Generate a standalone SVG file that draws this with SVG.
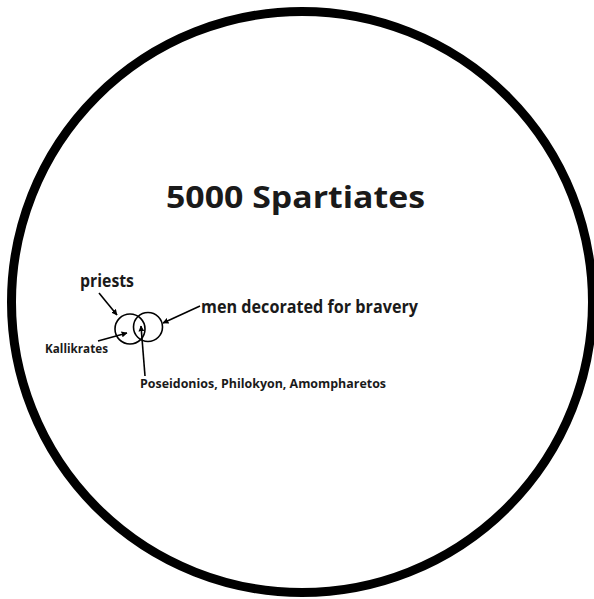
<svg xmlns="http://www.w3.org/2000/svg" width="594" height="599" viewBox="0 0 594 599">
<defs>
<style>
text{font-family:"Open Sans","Liberation Sans",sans-serif;font-weight:bold;fill:#1a1a1a}
.c{fill:none;stroke:#000}
.a{fill:none;stroke:#000;stroke-width:1.6;marker-end:url(#ah)}
</style>
<marker id="ah" viewBox="0 0 10 10" refX="9" refY="5" markerWidth="6" markerHeight="6" markerUnits="userSpaceOnUse" orient="auto">
<path d="M0,0 L10,5 L0,10 Z" fill="#000"/>
</marker>
</defs>
<rect width="594" height="599" fill="#fff"/>
<g id="spartiates">
<circle class="c" cx="302" cy="302" r="290.5" stroke-width="9"/>
<text x="166" y="208" font-size="30" textLength="259" lengthAdjust="spacingAndGlyphs">5000 Spartiates</text>
</g>
<g id="priests">
<circle class="c" cx="130" cy="329" r="15" stroke-width="1.6"/>
<text x="80" y="287" font-size="17" textLength="54" lengthAdjust="spacingAndGlyphs">priests</text>
</g>
<g id="decorated">
<circle class="c" cx="148" cy="327" r="14.5" stroke-width="1.6"/>
<text x="201" y="313" font-size="17" textLength="217" lengthAdjust="spacingAndGlyphs">men decorated for bravery</text>
</g>
<g id="kallikrates">
<text x="45" y="353" font-size="12" textLength="63" lengthAdjust="spacingAndGlyphs">Kallikrates</text>
</g>
<g id="poseidonios">
<text x="140" y="388" font-size="12" textLength="246" lengthAdjust="spacingAndGlyphs">Poseidonios, Philokyon, Amompharetos</text>
</g>
<g id="connectors">
<line class="a" x1="99" y1="293" x2="117" y2="315"/>
<line class="a" x1="98" y1="341" x2="127" y2="333"/>
<line class="a" x1="200" y1="306" x2="163" y2="323"/>
<line class="a" x1="145" y1="376" x2="141" y2="326"/>
</g>
</svg>
